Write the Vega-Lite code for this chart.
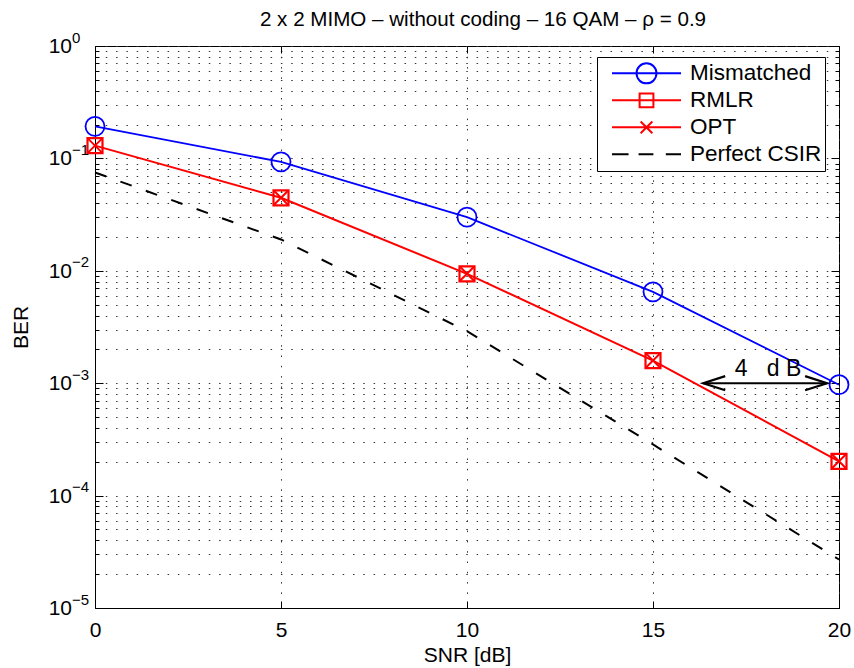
{
  "$schema": "https://vega.github.io/schema/vega-lite/v6.json",
  "width": 744,
  "height": 562,
  "autosize": {"type": "none"},
  "padding": {"left": 95, "top": 46, "right": 15, "bottom": 60},
  "background": "white",
  "title": {"text": "2 x 2 MIMO – without coding – 16 QAM – ρ = 0.9", "font": "Liberation Sans", "fontSize": 20.6, "fontWeight": "normal", "color": "#000", "baseline": "bottom", "frame": "group", "offset": 14, "anchor": "middle", "dx": 16, "dy": 34},
  "datasets": {
    "curves": [
      {"snr": 0, "ber": 0.193, "series": "Mismatched"},
      {"snr": 5, "ber": 0.093, "series": "Mismatched"},
      {"snr": 10, "ber": 0.030, "series": "Mismatched"},
      {"snr": 15, "ber": 0.0065, "series": "Mismatched"},
      {"snr": 20, "ber": 0.00097, "series": "Mismatched"},
      {"snr": 0, "ber": 0.130, "series": "RMLR"},
      {"snr": 5, "ber": 0.0446, "series": "RMLR"},
      {"snr": 10, "ber": 0.0094, "series": "RMLR"},
      {"snr": 15, "ber": 0.00159, "series": "RMLR"},
      {"snr": 20, "ber": 0.000202, "series": "RMLR"},
      {"snr": 0, "ber": 0.130, "series": "OPT"},
      {"snr": 5, "ber": 0.0446, "series": "OPT"},
      {"snr": 10, "ber": 0.0094, "series": "OPT"},
      {"snr": 15, "ber": 0.00159, "series": "OPT"},
      {"snr": 20, "ber": 0.000202, "series": "OPT"},
      {"snr": 0, "ber": 0.075, "series": "Perfect CSIR"},
      {"snr": 5, "ber": 0.019, "series": "Perfect CSIR"},
      {"snr": 10, "ber": 0.0029, "series": "Perfect CSIR"},
      {"snr": 15, "ber": 0.000285, "series": "Perfect CSIR"},
      {"snr": 20, "ber": 0.000027, "series": "Perfect CSIR"}
    ],
    "decades": [
      {"v": 1, "x0": 0, "e": "0"},
      {"v": 0.1, "x0": 0, "e": "−1"},
      {"v": 0.01, "x0": 0, "e": "−2"},
      {"v": 0.001, "x0": 0, "e": "−3"},
      {"v": 0.0001, "x0": 0, "e": "−4"},
      {"v": 0.00001, "x0": 0, "e": "−5"}
    ],
    "arrow": [{"x1": 16.35, "x2": 19.68, "y": 0.001}],
    "note": [{"x": 17.2, "y": 0.00115, "text": "4\u00a0\u00a0\u00a0d\u00a0B"}]
  },
  "layer": [
    {
      "layer": [
        {
          "data": {"name": "curves"},
          "transform": [{"filter": "datum.series === 'Mismatched'"}],
          "mark": {"type": "line", "color": "#0000ff", "strokeWidth": 1.8},
          "encoding": {
            "x": {"field": "snr", "type": "quantitative", "scale": {"domain": [0, 20], "nice": false},
              "axis": {"values": [0, 5, 10, 15, 20], "tickSize": -7, "labelPadding": 18, "labelFlush": false, "grid": true, "title": "SNR [dB]", "titleX": 372, "titleY": 53, "titleBaseline": "alphabetic", "titleAlign": "center"}},
            "y": {"field": "ber", "type": "quantitative", "scale": {"type": "log", "domain": [0.00001, 1], "nice": false},
              "axis": {"values": [0.00001,0.00002,0.00003,0.00004,0.00005,0.00006,0.00007,0.00008,0.00009,0.0001,0.0002,0.0003,0.0004,0.0005,0.0006,0.0007,0.0008,0.0009,0.001,0.002,0.003,0.004,0.005,0.006,0.007,0.008,0.009,0.01,0.02,0.03,0.04,0.05,0.06,0.07,0.08,0.09,0.1,0.2,0.3,0.4,0.5,0.6,0.7,0.8,0.9,1],
                "labels": false, "grid": true,
                "tickSize": {"condition": {"test": "abs(log(datum.value)/LN10 - round(log(datum.value)/LN10)) < 0.001", "value": -8}, "value": -4},
                "title": "BER", "titleX": -74, "titleY": 281, "titleAngle": -90, "titleBaseline": "middle", "titleAlign": "center"}}
          }
        },
        {
          "data": {"name": "curves"},
          "transform": [{"filter": "datum.series === 'RMLR'"}],
          "mark": {"type": "line", "color": "#ff0000", "strokeWidth": 2},
          "encoding": {
            "x": {"field": "snr", "type": "quantitative"},
            "y": {"field": "ber", "type": "quantitative"}
          }
        },
        {
          "data": {"name": "curves"},
          "transform": [{"filter": "datum.series === 'Perfect CSIR'"}],
          "mark": {"type": "line", "color": "#000000", "strokeWidth": 2, "strokeDash": [12, 15]},
          "encoding": {
            "x": {"field": "snr", "type": "quantitative"},
            "y": {"field": "ber", "type": "quantitative"}
          }
        },
        {
          "data": {"name": "curves"},
          "transform": [{"filter": "datum.series === 'Mismatched'"}],
          "mark": {"type": "point", "shape": "circle", "size": 361, "filled": false, "color": "#0000ff", "strokeWidth": 1.8, "opacity": 1},
          "encoding": {
            "x": {"field": "snr", "type": "quantitative"},
            "y": {"field": "ber", "type": "quantitative"}
          }
        },
        {
          "data": {"name": "curves"},
          "transform": [{"filter": "datum.series === 'RMLR'"}],
          "mark": {"type": "point", "shape": "square", "size": 225, "filled": false, "color": "#ff0000", "strokeWidth": 2.2, "opacity": 1},
          "encoding": {
            "x": {"field": "snr", "type": "quantitative"},
            "y": {"field": "ber", "type": "quantitative"}
          }
        },
        {
          "data": {"name": "curves"},
          "transform": [{"filter": "datum.series === 'OPT'"}],
          "mark": {"type": "point", "shape": "M -1 -1 L 1 1 M -1 1 L 1 -1", "size": 196, "filled": false, "color": "#ff0000", "strokeWidth": 2, "opacity": 1},
          "encoding": {
            "x": {"field": "snr", "type": "quantitative"},
            "y": {"field": "ber", "type": "quantitative"}
          }
        },
        {
          "data": {"name": "curves"},
          "transform": [{"filter": "false"}],
          "mark": {"type": "point", "filled": false, "opacity": 1},
          "encoding": {
            "x": {"field": "snr", "type": "quantitative"},
            "y": {"field": "ber", "type": "quantitative"},
            "color": {"field": "series", "type": "nominal",
              "scale": {"domain": ["Mismatched", "RMLR", "OPT", "Perfect CSIR"], "range": ["#0000ff", "#ff0000", "#ff0000", "#000000"]},
              "legend": {"title": null}},
            "shape": {"field": "series", "type": "nominal",
              "scale": {"domain": ["Mismatched", "RMLR", "OPT", "Perfect CSIR"],
                "range": [
                  "M -1 0 L 1 0 M -0.29 0 A 0.29 0.29 0 1 0 0.29 0 A 0.29 0.29 0 1 0 -0.29 0",
                  "M -1 0 L 1 0 M -0.2 -0.2 L 0.2 -0.2 L 0.2 0.2 L -0.2 0.2 Z",
                  "M -1 0 L 1 0 M -0.17 -0.17 L 0.17 0.17 M -0.17 0.17 L 0.17 -0.17",
                  "M -1 0 L -0.52 0 M -0.23 0 L 0.2 0 M 0.56 0 L 1 0"
                ]},
              "legend": {"title": null}}
          }
        },
        {
          "data": {"name": "arrow"},
          "mark": {"type": "rule", "color": "#000", "strokeWidth": 2},
          "encoding": {
            "x": {"field": "x1", "type": "quantitative"},
            "x2": {"field": "x2"},
            "y": {"field": "y", "type": "quantitative"}
          }
        },
        {
          "data": {"name": "arrow"},
          "mark": {"type": "point", "shape": "M 2 -0.64 L 0 0 L 2 0.64", "size": 484, "filled": false, "color": "#000", "strokeWidth": 2.2, "opacity": 1},
          "encoding": {
            "x": {"field": "x1", "type": "quantitative"},
            "y": {"field": "y", "type": "quantitative"}
          }
        },
        {
          "data": {"name": "arrow"},
          "mark": {"type": "point", "shape": "M -2 -0.64 L 0 0 L -2 0.64", "size": 484, "filled": false, "color": "#000", "strokeWidth": 2.2, "opacity": 1},
          "encoding": {
            "x": {"field": "x2", "type": "quantitative"},
            "y": {"field": "y", "type": "quantitative"}
          }
        },
        {
          "data": {"name": "note"},
          "mark": {"type": "text", "font": "Liberation Sans", "fontSize": 23, "align": "left", "baseline": "alphabetic", "color": "#000"},
          "encoding": {
            "x": {"field": "x", "type": "quantitative"},
            "y": {"field": "y", "type": "quantitative"},
            "text": {"field": "text"}
          }
        },
        {
          "data": {"name": "decades"},
          "mark": {"type": "text", "font": "Liberation Sans", "fontSize": 21, "align": "right", "baseline": "middle", "dx": -23, "dy": 1, "color": "#000", "text": "10"},
          "encoding": {
            "x": {"field": "x0", "type": "quantitative"},
            "y": {"field": "v", "type": "quantitative"}
          }
        },
        {
          "data": {"name": "decades"},
          "mark": {"type": "text", "font": "Liberation Sans", "fontSize": 15, "align": "left", "baseline": "alphabetic", "dx": -23, "dy": -3.5, "color": "#000"},
          "encoding": {
            "x": {"field": "x0", "type": "quantitative"},
            "y": {"field": "v", "type": "quantitative"},
            "text": {"field": "e"}
          }
        }
      ]
    },
    {
      "data": {"name": "decades"},
      "mark": {"type": "point", "opacity": 0},
      "encoding": {
        "x": {"field": "x0", "type": "quantitative", "scale": {"domain": [0, 20], "nice": false},
          "axis": {"orient": "top", "values": [0, 5, 10, 15, 20], "labels": false, "grid": false, "domain": false, "tickSize": -7, "title": null}},
        "y": {"field": "v", "type": "quantitative", "scale": {"type": "log", "domain": [0.00001, 1], "nice": false},
          "axis": {"orient": "right", "values": [0.00001,0.00002,0.00003,0.00004,0.00005,0.00006,0.00007,0.00008,0.00009,0.0001,0.0002,0.0003,0.0004,0.0005,0.0006,0.0007,0.0008,0.0009,0.001,0.002,0.003,0.004,0.005,0.006,0.007,0.008,0.009,0.01,0.02,0.03,0.04,0.05,0.06,0.07,0.08,0.09,0.1,0.2,0.3,0.4,0.5,0.6,0.7,0.8,0.9,1],
            "labels": false, "grid": false, "domain": false, "title": null,
            "tickSize": {"condition": {"test": "abs(log(datum.value)/LN10 - round(log(datum.value)/LN10)) < 0.001", "value": -8}, "value": -4}}}
      }
    }
  ],
  "resolve": {"axis": {"x": "independent", "y": "independent"}},
  "config": {
    "view": {"stroke": "#000", "strokeWidth": 1},
    "axis": {"domainColor": "#000", "domainWidth": 1, "tickColor": "#000", "tickWidth": 1, "labelColor": "#000", "titleColor": "#000", "labelFont": "Liberation Sans", "titleFont": "Liberation Sans", "labelFontSize": 21, "titleFontSize": 21, "titleFontWeight": "normal", "gridDash": [1.5, 8.8], "gridColor": "#333", "gridOpacity": 1, "gridWidth": 1},
    "legend": {"orient": "none", "legendX": 502, "legendY": 11, "padding": 3, "strokeColor": "#000", "fillColor": "#fff", "symbolSize": 4761, "symbolStrokeWidth": 2, "labelFont": "Liberation Sans", "labelFontSize": 22.5, "labelColor": "#000", "clipHeight": 26.7, "rowPadding": 0, "symbolOffset": 11, "labelOffset": 8, "labelLimit": 300, "cornerRadius": 0}
  }
}
